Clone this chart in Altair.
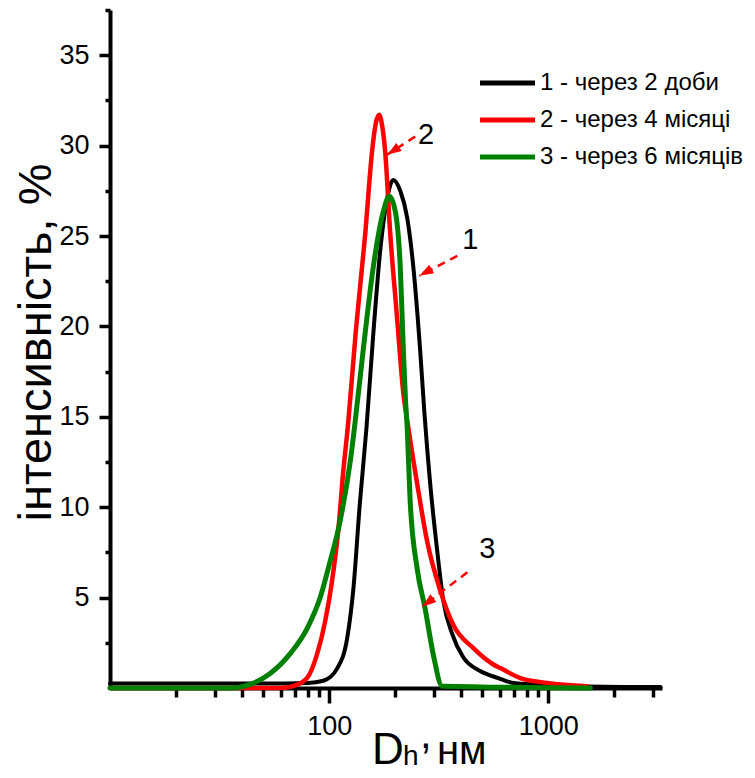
import altair as alt
import pandas as pd

# ---- data ----
series_names = ["1 - через 2 доби", "2 - через 4 місяці", "3 - через 6 місяців"]
series_colors = ["#000000", "#ff0000", "#008000"]

black_d = [10, 50, 80, 94, 109, 121, 129, 138, 148, 159, 171, 184, 196, 211, 227, 242, 260, 272, 289, 311, 332, 364, 409, 489, 591, 692, 1000, 1400, 3250]
black_v = [0.25, 0.25, 0.28, 0.4, 1.1, 2.8, 5.5, 10.2, 14.4, 19.6, 24.2, 27.1, 28.1, 27.5, 26.0, 23.3, 18.7, 15.2, 11.3, 7.6, 4.8, 3.0, 1.7, 0.94, 0.55, 0.28, 0.17, 0.1, 0.05]

red_d = [10, 60, 68.5, 79.3, 88.2, 95.9, 103, 110, 116, 122, 132, 146, 157, 163, 169, 175, 180, 190, 204, 218, 229, 252, 280, 321, 368, 455, 561, 604, 745, 990, 1507]
red_v = [0, 0, 0.1, 0.55, 1.9, 3.7, 5.9, 8.7, 12.0, 14.6, 19.6, 25.1, 29.7, 31.2, 31.7, 31.0, 29.7, 25.1, 20.5, 16.3, 14.5, 11.3, 8.1, 5.4, 3.5, 2.2, 1.3, 1.1, 0.55, 0.28, 0.1]

green_d = [10, 35.3, 43.6, 53.8, 66.4, 79.4, 91, 101, 112, 125, 131, 143, 159, 177, 188, 200, 211, 218, 223, 227, 234, 252, 274, 298, 328, 1556]
green_v = [0, 0, 0.2, 0.8, 1.9, 3.3, 5.0, 7.0, 9.2, 12.6, 14.6, 18.7, 23.3, 26.4, 27.2, 26.4, 23.3, 18.7, 15.9, 14.4, 10.4, 6.6, 4.4, 1.9, 0.1, 0]

x_tick_values = [20, 30, 40, 50, 60, 70, 80, 90, 100, 200, 300, 400, 500, 600, 700, 800, 900, 1000, 2000, 3000]
y_tick_values = [2.5, 5, 7.5, 10, 12.5, 15, 17.5, 20, 22.5, 25, 27.5, 30, 32.5, 35, 37.5]

ann_labels = ["1", "2", "3"]
ann_text_d = [440, 277, 526]
ann_text_v = [24.8, 30.6, 7.7]
arrow_start_d = [384, 247, 427]
arrow_start_v = [23.9, 30.5, 6.4]
arrow_tip_d = [258, 184, 266]
arrow_tip_v = [22.8, 29.5, 4.5]
arrow_angle = [241, 237, 232]

FONT = "Liberation Sans"

rows = []
for name, ds, vs in zip(series_names, [black_d, red_d, green_d], [black_v, red_v, green_v]):
    for d, v in zip(ds, vs):
        rows.append({"d": d, "v": v, "s": name})
df = pd.DataFrame(rows)

ann = pd.DataFrame({
    "lab": ann_labels, "td": ann_text_d, "tv": ann_text_v,
    "sd": arrow_start_d, "sv": arrow_start_v,
    "ed": arrow_tip_d, "ev": arrow_tip_v, "a": arrow_angle,
})

xscale = alt.Scale(type="log", domain=[10, 3300], nice=False)
yscale = alt.Scale(domain=[0, 37.5], nice=False, zero=False)

xaxis = alt.Axis(
    values=x_tick_values, format="d",
    labelExpr="(datum.value == 100 || datum.value == 1000) ? datum.label : ''",
    tickSize={"condition": {"test": "datum.value == 100 || datum.value == 1000", "value": 15}, "value": 9},
    tickWidth=3.5, tickColor="black", domainWidth=4, domainColor="black",
    labelFont=FONT, labelFontSize=27, labelColor="black", labelPadding=10,
    labelFlush=False, grid=False, title=None,
)
yaxis = alt.Axis(
    values=y_tick_values,
    labelExpr="(datum.value % 5 == 0) ? datum.label : ''",
    tickSize={"condition": {"test": "datum.value % 5 == 0", "value": 11}, "value": 5},
    tickWidth=3.5, tickColor="black", domainWidth=4, domainColor="black",
    labelFont=FONT, labelFontSize=27, labelColor="black", labelPadding=10,
    labelFlush=False, grid=False,
    title="інтенсивність, %", titleFont=FONT, titleFontSize=47, titleFontWeight="normal",
    titleColor="black", titleAngle=270, titleX=-60, titleY=332, titleAlign="center",
    titleBaseline="alphabetic",
)

lines = alt.Chart(df).mark_line(strokeJoin="round", strokeCap="round", interpolate="monotone").encode(
    x=alt.X("d:Q", scale=xscale, axis=xaxis),
    y=alt.Y("v:Q", scale=yscale, axis=yaxis),
    color=alt.Color("s:N", scale=alt.Scale(domain=series_names, range=series_colors), legend=None),
    strokeWidth=alt.StrokeWidth("s:N", scale=alt.Scale(domain=series_names, range=[4, 5, 5]), legend=None),
)

arrows = alt.Chart(ann).mark_rule(color="#ff0000", strokeWidth=2.5, strokeDash=[8, 6]).encode(
    x=alt.X("sd:Q", scale=xscale), y=alt.Y("sv:Q", scale=yscale),
    x2="ed:Q", y2="ev:Q",
)
heads = alt.Chart(ann).mark_point(
    shape="M0,0 L-0.7,2 L0.7,2 Z", filled=True, size=196, color="#ff0000", opacity=1, strokeWidth=0
).encode(
    x=alt.X("ed:Q", scale=xscale), y=alt.Y("ev:Q", scale=yscale),
    angle=alt.Angle("a:Q", scale=None),
)
ann_text = alt.Chart(ann).mark_text(font=FONT, fontSize=29, color="black").encode(
    x=alt.X("td:Q", scale=xscale), y=alt.Y("tv:Q", scale=yscale), text="lab:N",
)

# legend built from the series lists
legend_layers = []
for i, (name, col) in enumerate(zip(series_names, series_colors)):
    row_y = 73 + 37 * i
    src = pd.DataFrame({"s": [name]})
    legend_layers.append(
        alt.Chart(src).mark_rule(color=col, strokeWidth=5).encode(
            x=alt.value(370), x2=alt.value(425), y=alt.value(row_y))
    )
    legend_layers.append(
        alt.Chart(src).mark_text(font=FONT, fontSize=24, color="black", align="left", baseline="middle").encode(
            x=alt.value(430), y=alt.value(row_y), text="s:N")
    )

# x axis title: D_h, нм
title_parts = ["D", "h", ",", "нм"]
title_layers = []
for part, px, py, fs in zip(title_parts, [262, 293, 310, 327], [754, 755, 738, 754], [44, 28, 42, 40]):
    title_layers.append(
        alt.Chart(pd.DataFrame({"t": [part]})).mark_text(
            font=FONT, fontSize=fs, color="black", align="left", baseline="alphabetic"
        ).encode(x=alt.value(px), y=alt.value(py), text="t:N")
    )

chart = alt.layer(lines, arrows, heads, ann_text, *legend_layers, *title_layers).properties(
    width=552, height=678,
    autosize=alt.AutoSizeParams(type="none"),
    padding={"left": 102, "top": 2, "right": 85, "bottom": 82},
    background="white",
).configure_view(strokeWidth=0)

chart.save("out.html", embed_options={"renderer": "svg", "actions": False})
